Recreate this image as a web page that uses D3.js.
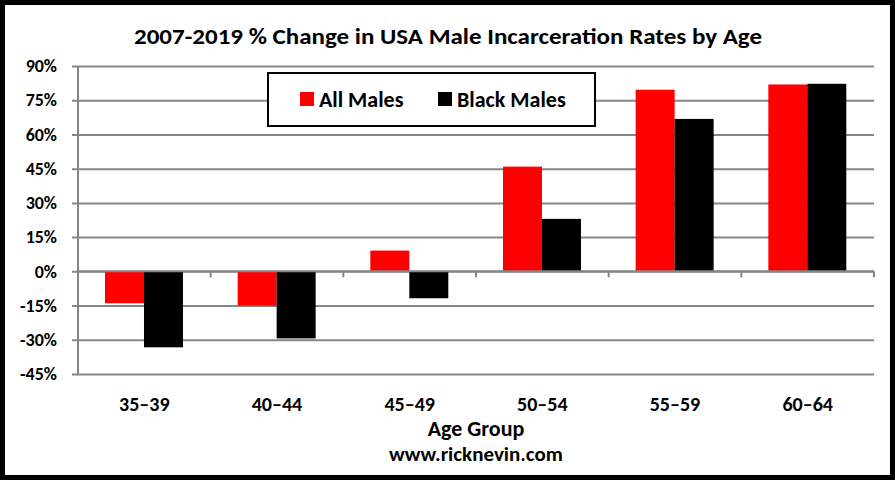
<!DOCTYPE html>
<html>
<head>
<meta charset="utf-8">
<script src="https://cdn.jsdelivr.net/npm/d3@7"></script>
<style>
  body { margin: 0; background: #fff; }
  svg text { font-family: Carlito, "Open Sans", sans-serif; font-weight: bold; fill: #000; }
</style>
</head>
<body>
<svg id="chart" width="895" height="480"></svg>
<script>
// data
var ageGroups = ["35\u201339", "40\u201344", "45\u201349", "50\u201354", "55\u201359", "60\u201364"];
var allMales = [-14.0, -15.0, 9.1, 45.9, 79.6, 81.9];
var blackMales = [-33.3, -29.4, -11.8, 23.0, 66.8, 82.2];
var yTicks = [-45, -30, -15, 0, 15, 30, 45, 60, 75, 90];
var seriesNames = ["All Males", "Black Males"];
var seriesColors = ["#ff0000", "#000000"];

var W = 895, H = 480;
var plotL = 78, plotR = 874, plotT = 66, plotB = 374;
var svg = d3.select("#chart");

// outer frame
svg.append("rect").attr("x", 2.5).attr("y", 2.5).attr("width", W - 5).attr("height", H - 5)
  .attr("fill", "#fff").attr("stroke", "#000").attr("stroke-width", 5);

svg.append("text").attr("x", 448).attr("y", 44).attr("text-anchor", "middle")
  .style("font-size", "23px")
  .attr("textLength", 628).attr("lengthAdjust", "spacingAndGlyphs")
  .text("2007-2019 % Change in USA Male Incarceration Rates by Age");

var y = d3.scaleLinear().domain([-45, 90]).range([plotB, plotT]);
var x0 = d3.scaleBand().domain(ageGroups).range([plotL, plotR]).paddingInner(0).paddingOuter(0);
var x1 = d3.scaleBand().domain(seriesNames).range([27, x0.bandwidth() - 27.7]);

// y axis with gridlines
var yAxis = d3.axisLeft(y).tickValues(yTicks).tickSize(-(plotR - plotL + 6)).tickFormat(function(d) { return d + "%"; });
var gy = svg.append("g").attr("transform", "translate(" + (plotL - 6) + ",0)").call(yAxis);
gy.select(".domain").remove();
gy.selectAll(".tick line").attr("stroke", "#868686").attr("stroke-width", 2);
gy.selectAll(".tick text").attr("x", -15).style("font-size", "18px");
svg.append("line").attr("x1", plotL).attr("x2", plotL).attr("y1", plotT).attr("y2", plotB)
  .attr("stroke", "#868686").attr("stroke-width", 2);

// bars
var rows = ageGroups.map(function(g, i) { return { group: g, vals: [allMales[i], blackMales[i]] }; });
var cat = svg.selectAll(".cat").data(rows).enter().append("g")
  .attr("transform", function(d) { return "translate(" + x0(d.group) + ",0)"; });
cat.selectAll("rect").data(function(d) { return d.vals.map(function(v, j) { return { s: seriesNames[j], v: v, c: seriesColors[j] }; }); })
  .enter().append("rect")
  .attr("x", function(d) { return x1(d.s); })
  .attr("width", x1.bandwidth())
  .attr("y", function(d) { return y(Math.max(0, d.v)); })
  .attr("height", function(d) { return Math.abs(y(d.v) - y(0)); })
  .attr("fill", function(d) { return d.c; });

// x axis on zero line
var boundaries = ageGroups.map(function(g) { return x0(g) + x0.bandwidth(); });
svg.append("line").attr("x1", plotL).attr("x2", plotR).attr("y1", y(0)).attr("y2", y(0))
  .attr("stroke", "#868686").attr("stroke-width", 2);
svg.selectAll(".xt").data(boundaries).enter().append("line")
  .attr("x1", function(d) { return d; }).attr("x2", function(d) { return d; })
  .attr("y1", y(0)).attr("y2", y(0) + 6).attr("stroke", "#868686").attr("stroke-width", 2);

svg.selectAll(".xl").data(ageGroups).enter().append("text")
  .attr("x", function(d) { return x0(d) + x0.bandwidth() / 2; })
  .attr("y", 411).attr("text-anchor", "middle").style("font-size", "20px")
  .text(function(d) { return d; });

svg.append("text").attr("x", 476).attr("y", 436).attr("text-anchor", "middle")
  .style("font-size", "22px").text("Age Group");
svg.append("text").attr("x", 476).attr("y", 461).attr("text-anchor", "middle")
  .style("font-size", "21px").text("www.ricknevin.com");

// legend
var lg = svg.append("g");
lg.append("rect").attr("x", 268).attr("y", 73).attr("width", 327).attr("height", 53)
  .attr("fill", "#fff").attr("stroke", "#000").attr("stroke-width", 2);
var legendX = [300, 438];
seriesNames.forEach(function(n, i) {
  lg.append("rect").attr("x", legendX[i]).attr("y", 92).attr("width", 14).attr("height", 14).attr("fill", seriesColors[i]);
  lg.append("text").attr("x", legendX[i] + 19).attr("y", 107).style("font-size", "22px").text(n);
});
</script>
</body>
</html>
